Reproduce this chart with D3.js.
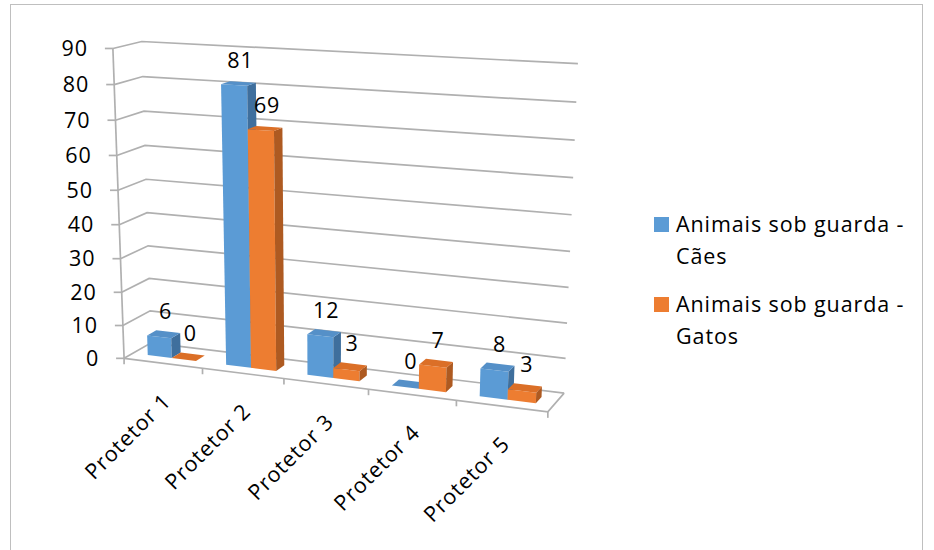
<!DOCTYPE html>
<meta charset="utf-8">
<style>
  body { margin: 0; background: #fff; }
  svg text { font-family: "Open Sans", sans-serif; fill: #000; font-size: 21.5px; letter-spacing: 0.9px; }
  .grid { fill: none; stroke: #b0b0b0; stroke-width: 1.7; }
</style>
<svg width="934" height="550"></svg>
<script src="https://d3js.org/d3.v7.min.js"></script>
<script>
var categories = ["Protetor 1", "Protetor 2", "Protetor 3", "Protetor 4", "Protetor 5"];
var seriesNames = ["Animais sob guarda - Cães", "Animais sob guarda - Gatos"];
var caes = [6, 81, 12, 0, 8];
var gatos = [0, 69, 3, 7, 3];
var yTicks = [0, 10, 20, 30, 40, 50, 60, 70, 80, 90];

var colors = [
  {front: "#5b9bd5", side: "#3f6f9d", top: "#5590c8"},
  {front: "#ed7d31", side: "#ae5a21", top: "#db6f27"}
];

// where the corners of the 3d box land on the page (x, y, z in 0..1 -> px)
var frame = [
  [0, 1, 0, 112, 49], [0, 0, 0, 125, 358], [0, 1, 1, 143, 41], [1, 1, 1, 578, 64],
  [1, 0, 0, 548, 412], [1, 0, 1, 564, 392], [0, 0, 1, 150, 344],
  [0.2, 0, 0, 203, 368], [0.4, 0, 0, 283, 378.5], [0.6, 0, 0, 368, 389.5], [0.8, 0, 0, 457, 401],
  [0, 8/9, 0, 113.5, 85], [0, 6/9, 0, 116.5, 155], [0, 4/9, 0, 119.5, 224], [0, 2/9, 0, 122.5, 292]
];

function solve(A, b) {
  var n = b.length;
  for (var i = 0; i < n; i++) {
    var p = i;
    for (var r = i + 1; r < n; r++) if (Math.abs(A[r][i]) > Math.abs(A[p][i])) p = r;
    var t = A[i]; A[i] = A[p]; A[p] = t;
    t = b[i]; b[i] = b[p]; b[p] = t;
    for (var r = i + 1; r < n; r++) {
      var f = A[r][i] / A[i][i];
      for (var c = i; c < n; c++) A[r][c] -= f * A[i][c];
      b[r] -= f * b[i];
    }
  }
  var x = new Array(n).fill(0);
  for (var i = n - 1; i >= 0; i--) {
    var s = b[i];
    for (var c = i + 1; c < n; c++) s -= A[i][c] * x[c];
    x[i] = s / A[i][i];
  }
  return x;
}

// least squares camera matrix from the frame points
var rows = [], rhs = [];
frame.forEach(function(f) {
  var X = f[0], Y = f[1], Z = f[2], u = f[3] / 100, v = f[4] / 100;
  rows.push([X, Y, Z, 1, 0, 0, 0, 0, -u * X, -u * Y, -u * Z]); rhs.push(u);
  rows.push([0, 0, 0, 0, X, Y, Z, 1, -v * X, -v * Y, -v * Z]); rhs.push(v);
});
var N = d3.range(11).map(function(i) {
  return d3.range(11).map(function(j) { return d3.sum(rows, function(r) { return r[i] * r[j]; }); });
});
var B = d3.range(11).map(function(i) { return d3.sum(rows, function(r, k) { return r[i] * rhs[k]; }); });
var P = solve(N, B);

function proj(x, y, z) {
  var w = P[8] * x + P[9] * y + P[10] * z + 1;
  return [100 * (P[0] * x + P[1] * y + P[2] * z + P[3]) / w,
          100 * (P[4] * x + P[5] * y + P[6] * z + P[7]) / w];
}

var x = d3.scaleBand().domain(categories).range([0, 1]).paddingInner(0.38).paddingOuter(0.19);
var xs = d3.scaleBand().domain(seriesNames).range([0, x.bandwidth()]);
var y = d3.scaleLinear().domain([0, 90]).range([0, 1]);
var z0 = 0.33, z1 = 0.67;

var svg = d3.select("svg");
svg.append("rect").attr("x", 10.5).attr("y", 4.5).attr("width", 912).attr("height", 560)
  .attr("fill", "#fff").attr("stroke", "#bfbfbf");

var line = d3.line();
function poly(pts) { return line(pts.map(function(p) { return proj(p[0], p[1], p[2]); })) + "Z"; }
function seg(a, b) { return line([proj(a[0], a[1], a[2]), proj(b[0], b[1], b[2])]); }

var g = svg.append("g");
// gridlines: side wall then back wall
yTicks.forEach(function(t) {
  var v = y(t);
  g.append("path").attr("class", "grid")
    .attr("d", line([proj(0, v, 0), proj(0, v, 1), proj(1, v, 1)]));
});
// floor and axis
g.append("path").attr("class", "grid").attr("d", line([proj(0, 0, 0), proj(1, 0, 0), proj(1, 0, 1)]));
g.append("path").attr("class", "grid").attr("d", seg([0, 0, 0], [0, 1, 0]));

// value axis ticks and labels
yTicks.forEach(function(t) {
  var p = proj(0, y(t), 0);
  g.append("path").attr("class", "grid").attr("d", line([[p[0] - 8, p[1]], p]));
  g.append("text").attr("x", p[0] - 25).attr("y", p[1]).attr("dy", "0.35em")
    .attr("text-anchor", "end").text(t);
});

// category ticks and labels
d3.range(categories.length + 1).forEach(function(i) {
  var p = proj(i * x.step(), 0, 0);
  g.append("path").attr("class", "grid").attr("d", line([p, [p[0], p[1] + 6]]));
});
categories.forEach(function(c) {
  var p = proj(x(c) + x.bandwidth() / 2, 0, 0);
  g.append("text")
    .attr("transform", "translate(" + (p[0] + 4) + "," + (p[1] + 34) + ") rotate(-45)")
    .attr("text-anchor", "end").attr("dy", "0.35em").text(c);
});

// bars, drawn left to right so nearer faces cover farther ones
var bars = svg.append("g");
categories.forEach(function(c, i) {
  [caes[i], gatos[i]].forEach(function(val, s) {
    var a = x(c) + xs(seriesNames[s]), b = a + xs.bandwidth(), v = y(val), col = colors[s];
    var bg = bars.append("g");
    bg.append("path").attr("fill", col.front).attr("d", poly([[a, 0, z0], [b, 0, z0], [b, v, z0], [a, v, z0]]));
    bg.append("path").attr("fill", col.side).attr("d", poly([[b, 0, z0], [b, 0, z1], [b, v, z1], [b, v, z0]]));
    bg.append("path").attr("fill", col.top).attr("d", poly([[a, v, z0], [b, v, z0], [b, v, z1], [a, v, z1]]));
  });
});

// data labels
var labels = svg.append("g");
categories.forEach(function(c, i) {
  [caes[i], gatos[i]].forEach(function(val, s) {
    var p = proj(x(c) + xs(seriesNames[s]) + xs.bandwidth() / 2, y(val), (z0 + z1) / 2);
    labels.append("text").attr("x", p[0] + 2).attr("y", p[1] - 23).attr("dy", "0.35em")
      .attr("text-anchor", "middle").text(val);
  });
});

// legend
var legend = svg.append("g").attr("transform", "translate(654,217)");
seriesNames.forEach(function(name, s) {
  var row = legend.append("g").attr("transform", "translate(0," + (s * 80) + ")");
  row.append("rect").attr("width", 15).attr("height", 15).attr("fill", colors[s].front);
  var parts = name.split(" - ");
  var t = row.append("text").attr("x", 22).attr("y", 7).attr("dy", "0.35em");
  t.append("tspan").attr("x", 22).text(parts[0] + " -");
  t.append("tspan").attr("x", 22).attr("dy", "32px").text(parts[1]);
});
</script>
